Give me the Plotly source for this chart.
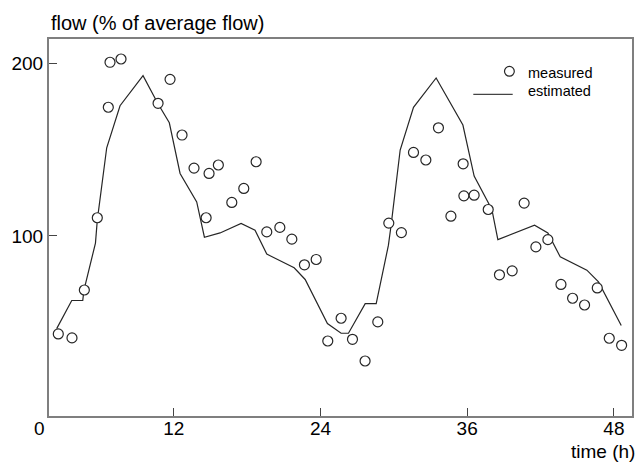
import plotly.graph_objects as go

# measured flow (% of average flow)
measured_t = [2.56, 3.68, 4.69, 5.75, 6.65, 6.79, 7.69, 10.72, 11.70, 12.68, 13.66, 14.65,
              14.89, 15.65, 16.75, 17.73, 18.74, 19.61, 20.68, 21.66, 22.69, 23.65, 24.60,
              25.69, 26.62, 27.65, 28.69, 29.59, 30.62, 31.61, 32.62, 33.65, 34.67, 35.67,
              35.73, 36.57, 37.72, 38.64, 39.68, 40.66, 41.62, 42.60, 43.67, 44.62, 45.60,
              46.64, 47.62, 48.63]
measured_v = [43.1, 40.8, 68.6, 110.5, 174.6, 200.7, 202.6, 176.9, 190.8, 158.5, 139.3, 110.5,
              136.2, 141.1, 119.4, 127.5, 143.0, 102.3, 104.9, 98.1, 83.2, 86.3, 39.0,
              52.2, 40.0, 27.4, 50.1, 107.4, 101.9, 148.4, 144.0, 162.7, 111.4, 141.8,
              123.2, 123.6, 115.3, 77.4, 79.7, 119.0, 93.6, 97.8, 71.8, 63.8, 59.9,
              69.8, 40.6, 36.5]

# estimated flow
estimated_t = [2.43, 3.66, 4.56, 4.66, 5.60, 5.75, 6.52, 7.61, 9.49, 10.69, 11.64, 12.52,
               13.88, 14.51, 15.79, 17.51, 18.65, 19.61, 21.85, 22.75, 24.57, 25.69, 26.29,
               27.66, 28.56, 29.56, 29.78, 30.52, 31.61, 33.46, 35.65, 36.57, 38.02, 38.51,
               41.51, 42.60, 43.61, 45.79, 46.74, 48.60]
estimated_v = [46.2, 62.5, 62.5, 68.5, 95.8, 109.1, 151.1, 175.5, 192.9, 176.9, 165.6, 136.2,
               119.7, 99.2, 101.7, 107.2, 103.3, 89.4, 81.5, 74.7, 49.1, 43.5, 43.5,
               60.7, 60.7, 94.6, 106.2, 149.8, 174.6, 191.6, 164.3, 134.7, 115.3, 97.8,
               106.2, 101.7, 87.8, 80.1, 73.3, 48.0]

x_ticks = [12, 24, 36, 48]
x_ticklabels = ["12", "24", "36", "48"]
y_ticks = [100, 200]
y_ticklabels = ["100", "200"]

FONT = "Liberation Sans, Arial, sans-serif"
W, H = 638, 465
L, R, T, B = 49, 6, 39, 49
pw, ph = W - L - R, H - T - B


def px(x):
    return (x - L) / pw


def py(y):
    return (H - B - y) / ph


fig = go.Figure()
fig.add_trace(go.Scatter(x=estimated_t, y=estimated_v, mode="lines",
                         line=dict(color="#262626", width=1.2), name="estimated",
                         showlegend=False))
fig.add_trace(go.Scatter(x=measured_t, y=measured_v, mode="markers",
                         marker=dict(symbol="circle", size=10, color="white",
                                     line=dict(color="#262626", width=1.2)),
                         name="measured", showlegend=False))

axis_common = dict(showline=True, linecolor="#7f7f7f", linewidth=2, mirror=True,
                   showgrid=False, zeroline=False, ticks="inside", ticklen=8,
                   tickcolor="#444", tickwidth=1, automargin=False,
                   tickfont=dict(family=FONT, size=19, color="black"))

fig.update_xaxes(range=[1.8, 49.48], tickvals=x_ticks, ticktext=x_ticklabels,
                 ticklabelstandoff=-6, **axis_common)
fig.update_yaxes(range=[-4.5, 214.2], tickvals=y_ticks, ticktext=y_ticklabels, **axis_common)

annotations = [
    dict(text="flow (% of average flow)", x=px(49), y=py(23), xref="paper", yref="paper",
         xanchor="left", yanchor="middle", showarrow=False,
         font=dict(family=FONT, size=20, color="black")),
    dict(text="time (h)", x=px(636), y=py(451.5), xref="paper", yref="paper",
         xanchor="right", yanchor="middle", showarrow=False, borderpad=0,
         font=dict(family=FONT, size=19, color="black")),
    dict(text="0", x=px(39.7), y=py(428.5), xref="paper", yref="paper",
         xanchor="center", yanchor="middle", showarrow=False,
         font=dict(family=FONT, size=19, color="black")),
    dict(text="measured", x=px(526), y=py(72.7), xref="paper", yref="paper",
         xanchor="left", yanchor="middle", showarrow=False,
         font=dict(family=FONT, size=14.5, color="black")),
    dict(text="estimated", x=px(526), y=py(91), xref="paper", yref="paper",
         xanchor="left", yanchor="middle", showarrow=False,
         font=dict(family=FONT, size=14.5, color="black")),
]

shapes = [
    dict(type="line", xref="paper", yref="paper", x0=px(473.3), x1=px(512.7),
         y0=py(94.3), y1=py(94.3), line=dict(color="#444", width=1.2)),
    dict(type="circle", xref="paper", yref="paper", x0=px(504.5), x1=px(514.3),
         y0=py(66.4), y1=py(76.2), line=dict(color="#262626", width=1.2),
         fillcolor="white"),
]

fig.update_layout(width=W, height=H, margin=dict(l=L, r=R, t=T, b=B),
                  paper_bgcolor="white", plot_bgcolor="white",
                  annotations=annotations, shapes=shapes, showlegend=False)

fig.write_html("out.html", config={"displayModeBar": False},
               post_script="document.body.style.margin='0px';"
                           "document.body.style.overflow='hidden';"
                           "document.documentElement.style.overflow='hidden';")
